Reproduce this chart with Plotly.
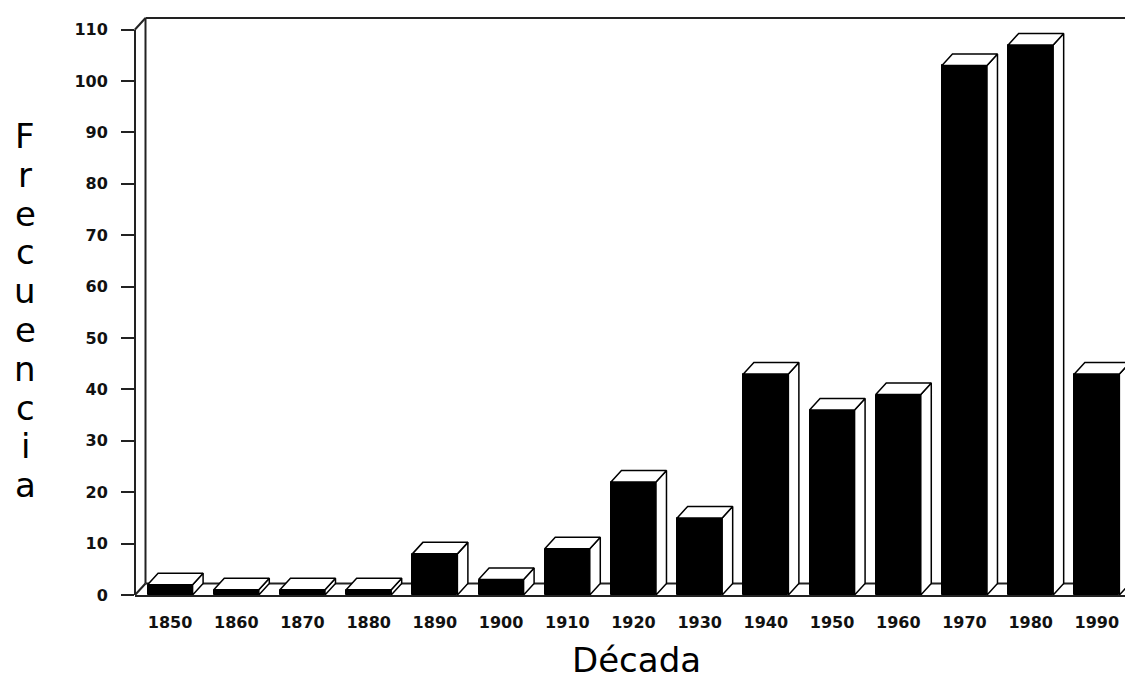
import plotly.graph_objects as go

# ---- data ----
decades = [1850, 1860, 1870, 1880, 1890, 1900, 1910, 1920, 1930, 1940, 1950, 1960, 1970, 1980, 1990]
freq = [2, 1, 1, 1, 8, 3, 9, 22, 15, 43, 36, 39, 103, 107, 43]
y_ticks = list(range(0, 111, 10))
x_title = "Década"
y_title = "Frecuencia"

# ---- geometry (pixel layout) ----
W, H = 1125, 681
L, R, T, B = 135, 0, 18, 86
XR = [1844.7, 1994.25]
YMAX_FRONT = 110
PLOT_W = W - L - R
PLOT_H = H - T - B
DX_PX, DY_PX = 10.5, 11.5
xspan = XR[1] - XR[0]
DXu = DX_PX * xspan / PLOT_W
px_per_y = (PLOT_H - DY_PX) / YMAX_FRONT
DYu = DY_PX / px_per_y
YR = [0, YMAX_FRONT + DYu]
BW = 6.8  # bar width in years

fig = go.Figure()

# front faces
fig.add_trace(go.Bar(
    x=decades, y=freq, width=BW,
    marker=dict(color="black", line=dict(color="black", width=1)),
    hoverinfo="skip", showlegend=False,
))

# top and side faces
tx, ty, sx, sy = [], [], [], []
for d, v in zip(decades, freq):
    xl, xr = d - BW / 2, d + BW / 2
    tx += [xl, xr, xr + DXu, xl + DXu, xl, None]
    ty += [v, v, v + DYu, v + DYu, v, None]
    sx += [xr, xr, xr + DXu, xr + DXu, xr, None]
    sy += [0, v, v + DYu, DYu, 0, None]

for px_, py_ in ((sx, sy), (tx, ty)):
    fig.add_trace(go.Scatter(
        x=px_, y=py_, mode="lines", fill="toself", fillcolor="white",
        line=dict(color="black", width=1.5), hoverinfo="skip", showlegend=False,
    ))

# 3D frame (paper coordinates)
dxp = DXu / xspan
dyp = DYu / YR[1]
y110 = YMAX_FRONT / YR[1]
frame = [
    (0, 0, 0, y110),
    (0, y110, dxp, 1),
    (dxp, 1, 1, 1),
    (dxp, dyp, dxp, 1),
    (dxp, dyp, 1, dyp),
    (0, 0, dxp, dyp),
]
shapes = [dict(type="line", xref="paper", yref="paper", x0=a, y0=b, x1=c, y1=d,
               line=dict(color="#222", width=2), layer="below")
          for a, b, c, d in frame]

tick_font = dict(family="DejaVu Sans", size=16, color="#111", weight="bold")

annotations = [dict(
    text=x_title, xref="paper", yref="paper",
    x=(636 - L) / PLOT_W, y=-(660 - (H - B)) / PLOT_H,
    xanchor="center", yanchor="middle", showarrow=False,
    font=dict(family="DejaVu Sans", size=34, color="#000"),
)]
for k, ch in enumerate(y_title):
    yc = 136 + 38.8 * k
    annotations.append(dict(
        text=ch, xref="paper", yref="paper",
        x=(25 - L) / PLOT_W, y=((H - B) - yc) / PLOT_H,
        xanchor="center", yanchor="middle", showarrow=False,
        font=dict(family="DejaVu Sans", size=34, color="#000"),
    ))

fig.update_layout(
    width=W, height=H,
    margin=dict(l=L, r=R, t=T, b=B, pad=0),
    paper_bgcolor="white", plot_bgcolor="white",
    showlegend=False, bargap=0,
    shapes=shapes, annotations=annotations,
    xaxis=dict(
        range=XR, tickmode="array", tickvals=decades, ticktext=[str(d) for d in decades],
        showgrid=False, zeroline=False, showline=True, linecolor="#222", linewidth=2,
        ticks="", tickfont=tick_font, ticklabelstandoff=12, fixedrange=True,
    ),
    yaxis=dict(
        range=YR, tickmode="array", tickvals=y_ticks,
        showgrid=False, zeroline=False, showline=False,
        ticks="outside", ticklen=13, tickwidth=2, tickcolor="#222",
        tickfont=tick_font, ticklabelstandoff=10, fixedrange=True,
    ),
)

fig.write_html(
    "out.html",
    config={"displayModeBar": False},
    post_script="document.body.style.margin='0';document.body.style.overflow='hidden';",
)
